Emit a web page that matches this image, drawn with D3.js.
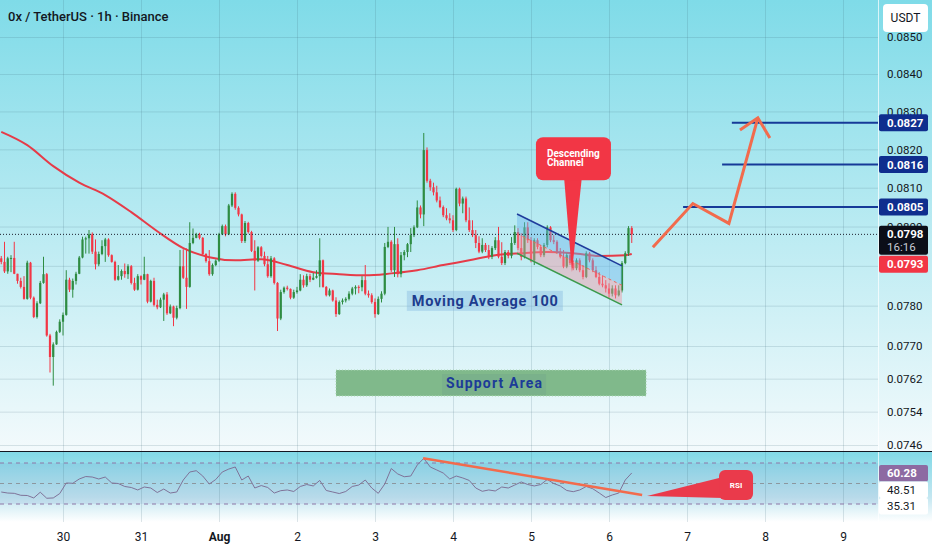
<!DOCTYPE html>
<html>
<head>
<meta charset="utf-8">
<title>0x / TetherUS 1h</title>
<script src="https://cdn.jsdelivr.net/npm/d3@7"></script>
<style>
  html, body { margin: 0; padding: 0; background: #fff; }
  svg { display: block; }
  text { font-family: Roboto, "Noto Sans", sans-serif; }
</style>
</head>
<body>
<div id="chart"></div>
<script>
// ------------------------
// Data
// ------------------------
const HOUR = 3600e3;
const firstCandle = Date.UTC(2024, 6, 29, 5);   // 1h bars from Jul 29 05:00
const firstOpen = 0.07919;                      // each later bar opens at the previous close

const closes = [
  0.07910,0.07886,0.07919,0.07920,0.07880,0.07862,0.07847,0.07817,0.07908,0.07820,
  0.07772,0.07806,0.07857,0.07879,0.07726,0.07673,0.07704,0.07735,0.07760,0.07777,
  0.07865,0.07840,0.07862,0.07880,0.07921,0.07967,0.07970,0.07980,0.07936,0.07904,
  0.07930,0.07950,0.07967,0.07927,0.07910,0.07865,0.07874,0.07887,0.07879,0.07899,
  0.07857,0.07840,0.07874,0.07865,0.07879,0.07810,0.07862,0.07802,0.07796,0.07815,
  0.07828,0.07781,0.07798,0.07770,0.07794,0.07899,0.07870,0.07847,0.07958,0.07971,
  0.07980,0.07971,0.07930,0.07912,0.07879,0.07902,0.07913,0.07980,0.08001,0.07980,
  0.08054,0.08084,0.08048,0.08031,0.07963,0.08009,0.07986,0.07938,0.07913,0.07947,
  0.07925,0.07904,0.07874,0.07919,0.07857,0.07768,0.07834,0.07845,0.07842,0.07820,
  0.07834,0.07838,0.07865,0.07851,0.07874,0.07865,0.07870,0.07874,0.07914,0.07847,
  0.07826,0.07838,0.07813,0.07779,0.07809,0.07813,0.07817,0.07830,0.07843,0.07847,
  0.07846,0.07864,0.07830,0.07826,0.07809,0.07779,0.07817,0.07830,0.07948,0.07961,
  0.07889,0.07955,0.07879,0.07927,0.07935,0.07955,0.07978,0.07998,0.08049,0.08031,
  0.08198,0.08118,0.08101,0.08088,0.08067,0.08050,0.08029,0.08021,0.08016,0.07991,
  0.08097,0.08059,0.08072,0.08016,0.07991,0.07978,0.07958,0.07936,0.07953,0.07940,
  0.07923,0.07945,0.07965,0.07923,0.07907,0.07935,0.07925,0.07958,0.07986,0.07945,
  0.07923,0.07998,0.07965,0.07914,0.07965,0.07948,0.07927,0.07953,0.07998,0.07965,
  0.07961,0.07936,0.07923,0.07898,0.07927,0.07907,0.07894,0.07914,0.07889,0.07872,
  0.07932,0.07914,0.07889,0.07872,0.07855,0.07851,0.07843,0.07830,0.07843,0.07826,
  0.07838,0.07907,0.07932,0.07996,0.07980
];

const highs = [
  0.07925,0.07961,0.07923,0.07927,0.07961,0.07880,0.07870,0.07874,0.07913,0.07910,
  0.07823,0.07811,0.07862,0.07923,0.07882,0.07730,0.07709,0.07738,0.07766,0.07783,
  0.07889,0.07870,0.07868,0.07885,0.07925,0.07974,0.07974,0.07991,0.07985,0.07967,
  0.07936,0.07965,0.07971,0.07970,0.07929,0.07913,0.07902,0.07891,0.07906,0.07904,
  0.07902,0.07870,0.07879,0.07876,0.07923,0.07880,0.07865,0.07870,0.07815,0.07820,
  0.07832,0.07834,0.07803,0.07800,0.07800,0.07940,0.07942,0.07944,0.08011,0.07995,
  0.07984,0.07984,0.07973,0.07932,0.07940,0.07906,0.07916,0.07984,0.08005,0.08005,
  0.08058,0.08088,0.08088,0.08052,0.08033,0.08014,0.08012,0.07989,0.07965,0.07950,
  0.07950,0.07936,0.07925,0.07925,0.07922,0.07859,0.07840,0.07848,0.07850,0.07843,
  0.07840,0.07847,0.07879,0.07876,0.07880,0.07880,0.07882,0.07889,0.07970,0.07916,
  0.07849,0.07843,0.07840,0.07821,0.07813,0.07818,0.07821,0.07836,0.07847,0.07851,
  0.07851,0.07874,0.07902,0.07838,0.07831,0.07818,0.07823,0.07836,0.07958,0.07999,
  0.07965,0.07999,0.07970,0.07935,0.07940,0.07958,0.07996,0.08003,0.08067,0.08054,
  0.08243,0.08205,0.08123,0.08113,0.08105,0.08077,0.08054,0.08047,0.08034,0.08029,
  0.08100,0.08100,0.08077,0.08077,0.08049,0.08016,0.07991,0.07975,0.07970,0.07958,
  0.07953,0.07950,0.07973,0.07999,0.07960,0.07940,0.07940,0.07973,0.08003,0.07996,
  0.07983,0.08011,0.08011,0.07973,0.07970,0.07970,0.07953,0.07958,0.08003,0.08001,
  0.07978,0.07965,0.07945,0.07940,0.07932,0.07930,0.07914,0.07919,0.07919,0.07902,
  0.07937,0.07935,0.07919,0.07899,0.07884,0.07876,0.07864,0.07856,0.07851,0.07851,
  0.07851,0.07912,0.07937,0.08001,0.08001
];

const lows = [
  0.07904,0.07882,0.07880,0.07884,0.07879,0.07855,0.07843,0.07815,0.07815,0.07816,
  0.07769,0.07768,0.07804,0.07855,0.07723,0.07635,0.07603,0.07703,0.07732,0.07726,
  0.07775,0.07834,0.07820,0.07853,0.07879,0.07919,0.07931,0.07931,0.07930,0.07891,
  0.07899,0.07927,0.07910,0.07923,0.07908,0.07862,0.07863,0.07865,0.07870,0.07867,
  0.07853,0.07837,0.07838,0.07853,0.07864,0.07806,0.07808,0.07798,0.07791,0.07794,
  0.07762,0.07777,0.07779,0.07749,0.07766,0.07791,0.07867,0.07792,0.07845,0.07955,
  0.07970,0.07967,0.07926,0.07908,0.07875,0.07875,0.07899,0.07910,0.07978,0.07975,
  0.07978,0.08050,0.08043,0.08026,0.07958,0.07958,0.07982,0.07935,0.07838,0.07910,
  0.07921,0.07899,0.07870,0.07870,0.07853,0.07737,0.07764,0.07830,0.07838,0.07816,
  0.07817,0.07830,0.07836,0.07845,0.07847,0.07859,0.07864,0.07868,0.07846,0.07845,
  0.07823,0.07823,0.07810,0.07772,0.07777,0.07803,0.07808,0.07813,0.07826,0.07828,
  0.07831,0.07836,0.07826,0.07820,0.07805,0.07770,0.07777,0.07808,0.07826,0.07945,
  0.07884,0.07872,0.07871,0.07871,0.07914,0.07922,0.07935,0.07973,0.07996,0.08021,
  0.08001,0.08113,0.08092,0.08080,0.08062,0.08047,0.08024,0.08016,0.08008,0.07986,
  0.07988,0.08052,0.08034,0.08011,0.07986,0.07973,0.07945,0.07932,0.07932,0.07935,
  0.07917,0.07917,0.07940,0.07919,0.07902,0.07902,0.07919,0.07919,0.07953,0.07940,
  0.07914,0.07919,0.07958,0.07909,0.07902,0.07942,0.07922,0.07922,0.07947,0.07960,
  0.07955,0.07932,0.07919,0.07894,0.07894,0.07902,0.07889,0.07889,0.07884,0.07866,
  0.07869,0.07909,0.07884,0.07869,0.07851,0.07846,0.07833,0.07820,0.07823,0.07818,
  0.07823,0.07833,0.07904,0.07925,0.07958
];

// Moving Average 100, read at every 8th bar
const maIndex = [0, 8, 16, 24, 32, 40, 48, 56, 64, 72, 80, 88, 96, 104, 112, 120,
                 128, 136, 144, 152, 160, 168, 176, 184, 192, 194];
const maValues = [0.08246, 0.08211, 0.08156, 0.08113, 0.08081, 0.08037, 0.07988, 0.07945,
                  0.07922, 0.07914, 0.07917, 0.07902, 0.07884, 0.07879, 0.07876, 0.07881,
                  0.07889, 0.07902, 0.07914, 0.07927, 0.07932, 0.07935, 0.07932, 0.07925,
                  0.07927, 0.07930];

// RSI, one reading every second bar
const rsiValues = [
  41.7, 40.7, 40.4, 38.5, 38.3, 35.9, 41.5, 35.6, 35.9, 40.2,
  50.5, 50.2, 54.4, 56.8, 56.3, 54.4, 56.3, 50.5, 50.0, 47.1,
  46.1, 43.7, 46.6, 45.6, 41.2, 44.6, 40.7, 41.7, 53.4, 61.2,
  62.5, 57.3, 49.5, 53.9, 61.2, 64.1, 66.1, 53.4, 57.3, 45.6,
  48.0, 46.1, 40.7, 43.0, 43.7, 42.2, 47.1, 49.0, 47.6, 53.0,
  43.2, 41.7, 40.2, 42.2, 47.1, 48.5, 53.4, 45.6, 40.4, 49.5,
  64.6, 59.3, 56.6, 57.3, 68.0, 74.5, 66.1, 63.2, 60.2, 54.4,
  57.3, 55.4, 53.0, 45.6, 42.4, 43.7, 42.7, 46.6, 45.6, 48.5,
  51.5, 49.0, 47.6, 49.0, 53.9, 50.0, 47.6, 43.2, 42.0, 43.7,
  47.1, 44.9, 40.7, 36.3, 38.8, 40.7, 53.4, 60.28
];
const rsiSideValues = [48.51, 35.31];
const rsiLevels = [70, 50, 30];

// 0.0790 sits under the price tags, so only its grid line shows
const priceTicks = [0.0850, 0.0840, 0.0830, 0.0820, 0.0810, 0.0800, 0.0790,
                    0.0780, 0.0770, 0.0762, 0.0754, 0.0746];
const hiddenTicks = [0.0790];
const dayLabels = ["30", "31", "Aug", "2", "3", "4", "5", "6", "7", "8", "9"];
const countdown = "16:16";

// drawings; times are hours after Jul 30 00:00
const dayZero = Date.UTC(2024, 6, 30);
const channelHours = [139.7, 172];
const channelUpper = [0.08032, 0.07900];
const channelLower = [0.07932, 0.07802];
const targetLevels = [0.0827, 0.0816, 0.0805];
const targetFrom = [205.8, 202.8, 190.8];
const pathHours = [181.5, 193.8, 204.9, 213.8];
const pathPrices = [0.07947, 0.08059, 0.08008, 0.08283];
const arrowHours = [208.3, 213.8, 217.5];
const arrowPrices = [0.08251, 0.08283, 0.08230];
const supportHours = [84, 179.4];
const supportPrices = [0.07641, 0.07578];
const maLabelAt = [129.8, 0.07812];
const channelTipAt = [156.6, 0.07884];
const rsiTrendHours = [110.8, 178.2];
const rsiTrendValues = [74.6, 38.8];
const rsiTipAt = [179.7, 37.8];

// ------------------------
// Layout and scales
// ------------------------
const W = 932, H = 550;
const right = 878, mainBottom = 451, rsiBottom = 522;

const x = d3.scaleUtc()
  .domain([new Date(dayZero), new Date(dayZero + 240 * HOUR)])
  .range([63, 843]);
const y = d3.scaleLog().domain([0.0850, 0.0746]).range([37, 445]);
const r = d3.scaleLinear().domain([70, 30]).range([463, 504]);
const xh = h => x(new Date(dayZero + h * HOUR));
const fmt4 = d3.format(".4f");

const svg = d3.select("#chart").append("svg")
  .attr("width", W)
  .attr("height", H);

const defs = svg.append("defs");
function vGrad(id, stops) {
  const g = defs.append("linearGradient").attr("id", id)
    .attr("x1", 0).attr("y1", 0).attr("x2", 0).attr("y2", 1);
  stops.forEach(([o, c]) => g.append("stop").attr("offset", o).attr("stop-color", c));
}
vGrad("bgMain", [["0%", "#7fdbe8"], ["100%", "#f3fafc"]]);
vGrad("bgRsi", [["0%", "#80d9e7"], ["65%", "#c4e7f1"], ["100%", "#ffffff"]]);

defs.append("clipPath").attr("id", "clipMain")
  .append("rect").attr("width", right).attr("height", mainBottom);
defs.append("clipPath").attr("id", "clipRsi")
  .append("rect").attr("y", mainBottom).attr("width", right).attr("height", rsiBottom - mainBottom);
defs.append("clipPath").attr("id", "clipRsiAxis")
  .append("rect").attr("x", right).attr("y", mainBottom + 1)
  .attr("width", W - right).attr("height", rsiBottom - mainBottom);

// backgrounds
svg.append("rect").attr("width", W).attr("height", mainBottom).attr("fill", "url(#bgMain)");
svg.append("rect").attr("y", mainBottom).attr("width", W).attr("height", rsiBottom - mainBottom)
  .attr("fill", "url(#bgRsi)");
svg.append("rect").attr("y", rsiBottom).attr("width", W).attr("height", H - rsiBottom).attr("fill", "#fff");
svg.append("rect").attr("x", 0).attr("width", right)
  .attr("y", r(70)).attr("height", r(30) - r(70))
  .attr("fill", "rgba(80,110,180,0.10)");

// grid
const gridColor = "rgba(60,100,120,0.17)";
svg.append("g")
  .attr("transform", `translate(${right},0)`)
  .call(d3.axisLeft(y).tickValues(priceTicks).tickSize(right).tickFormat(""))
  .call(g => g.select(".domain").remove())
  .selectAll("line").attr("stroke", gridColor);

const days = d3.utcDay.range(new Date(dayZero), new Date(dayZero + 11 * 24 * HOUR));
svg.append("g")
  .call(d3.axisBottom(x).tickValues(days).tickSize(rsiBottom).tickFormat(""))
  .call(g => g.select(".domain").remove())
  .selectAll("line").attr("stroke", gridColor);

// ------------------------
// Main pane
// ------------------------
const main = svg.append("g").attr("clip-path", "url(#clipMain)");

// support area
const sx0 = xh(supportHours[0]), sx1 = xh(supportHours[1]);
const sy0 = y(supportPrices[0]), sy1 = y(supportPrices[1]);
main.append("rect")
  .attr("x", sx0).attr("y", sy0).attr("width", sx1 - sx0).attr("height", sy1 - sy0)
  .attr("fill", "#80b98b")
  .attr("stroke", "#a7d3b0").attr("stroke-dasharray", "1,2");
const supW = 96;
main.append("rect")
  .attr("x", (sx0 + sx1) / 2 + 3 - supW / 2 - 4).attr("y", sy0 + 4)
  .attr("width", supW + 8).attr("height", sy1 - sy0 - 5)
  .attr("fill", "rgba(110,160,140,0.3)");
main.append("text")
  .attr("x", (sx0 + sx1) / 2 + 3).attr("y", (sy0 + sy1) / 2 + 5)
  .attr("text-anchor", "middle")
  .attr("font-size", 14).attr("font-weight", 700)
  .attr("textLength", supW).attr("lengthAdjust", "spacing")
  .attr("fill", "#1c3b98")
  .text("Support Area");

// moving average 100
const maLine = d3.line()
  .x((d, k) => x(new Date(firstCandle + maIndex[k] * HOUR)))
  .y(d => y(d))
  .curve(d3.curveMonotoneX);
main.append("path")
  .datum(maValues)
  .attr("fill", "none")
  .attr("stroke", "#e63b48")
  .attr("stroke-width", 2)
  .attr("d", maLine);

// candles
const bars = closes.map((c, i) => ({
  t: new Date(firstCandle + i * HOUR),
  o: i ? closes[i - 1] : firstOpen,
  h: highs[i], l: lows[i], c
}));
const up = "#2e8c42", down = "#f23645";
main.append("g").selectAll("line")
  .data(bars).enter().append("line")
  .attr("x1", d => x(d.t)).attr("x2", d => x(d.t))
  .attr("y1", d => y(d.h)).attr("y2", d => y(d.l))
  .attr("stroke", d => d.c >= d.o ? up : down)
  .attr("stroke-width", 1);
main.append("g").selectAll("rect")
  .data(bars).enter().append("rect")
  .attr("x", d => x(d.t) - 1.1)
  .attr("width", 2.2)
  .attr("y", d => y(Math.max(d.o, d.c)))
  .attr("height", d => Math.max(1, Math.abs(y(d.o) - y(d.c))))
  .attr("fill", d => d.c >= d.o ? up : down);

// descending channel
const cx0 = xh(channelHours[0]), cx1 = xh(channelHours[1]);
const mid = channelUpper.map((u, k) => Math.sqrt(u * channelLower[k]));
main.append("path")
  .attr("d", `M${cx0},${y(channelUpper[0])}L${cx1},${y(channelUpper[1])}L${cx1},${y(mid[1])}L${cx0},${y(mid[0])}Z`)
  .attr("fill", "rgba(110,185,235,0.45)");
main.append("path")
  .attr("d", `M${cx0},${y(mid[0])}L${cx1},${y(mid[1])}L${cx1},${y(channelLower[1])}L${cx0},${y(channelLower[0])}Z`)
  .attr("fill", "rgba(240,150,165,0.45)");
main.append("line")
  .attr("x1", cx0).attr("y1", y(mid[0])).attr("x2", cx1).attr("y2", y(mid[1]))
  .attr("stroke", "#e8675e").attr("stroke-width", 1).attr("stroke-dasharray", "3,3");
main.append("line")
  .attr("x1", cx0).attr("y1", y(channelUpper[0])).attr("x2", cx1).attr("y2", y(channelUpper[1]))
  .attr("stroke", "#1f3c9c").attr("stroke-width", 1.6);
main.append("line")
  .attr("x1", cx0).attr("y1", y(channelLower[0])).attr("x2", cx1).attr("y2", y(channelLower[1]))
  .attr("stroke", "#3a9a4c").attr("stroke-width", 1.6);

// current price line
const lastPrice = closes[closes.length - 1];
main.append("line")
  .attr("x1", 0).attr("x2", right)
  .attr("y1", y(lastPrice)).attr("y2", y(lastPrice))
  .attr("stroke", "#1a1f2e").attr("stroke-width", 1)
  .attr("stroke-dasharray", "1,2");

// target levels
targetLevels.forEach((v, k) => {
  main.append("line")
    .attr("x1", xh(targetFrom[k])).attr("x2", right)
    .attr("y1", y(v)).attr("y2", y(v))
    .attr("stroke", "#163a98").attr("stroke-width", 2);
});

// projected path
const proj = d3.line().x(d => xh(d[0])).y(d => y(d[1]));
main.append("path")
  .datum(pathHours.map((h, k) => [h, pathPrices[k]]))
  .attr("fill", "none").attr("stroke", "#f26b4d").attr("stroke-width", 3)
  .attr("d", proj);
main.append("path")
  .datum(arrowHours.map((h, k) => [h, arrowPrices[k]]))
  .attr("fill", "none").attr("stroke", "#f26b4d").attr("stroke-width", 3)
  .attr("d", proj);

// moving average label
const maW = 146;
main.append("rect")
  .attr("x", xh(maLabelAt[0]) - maW / 2 - 5).attr("y", y(maLabelAt[1]) - 10)
  .attr("width", maW + 10).attr("height", 20)
  .attr("fill", "rgba(120,175,220,0.35)");
main.append("text")
  .attr("x", xh(maLabelAt[0])).attr("y", y(maLabelAt[1]) + 5.5)
  .attr("text-anchor", "middle")
  .attr("font-size", 14.5).attr("font-weight", 700)
  .attr("textLength", maW).attr("lengthAdjust", "spacing")
  .attr("fill", "#1d3c8e")
  .text("Moving Average 100");

// descending channel callout
const tx = xh(channelTipAt[0]), ty = y(channelTipAt[1]);
main.append("path")
  .attr("d", `M${tx - 8},${ty - 96}L${tx + 10},${ty - 96}L${tx},${ty}Z`)
  .attr("fill", "#f23645");
main.append("rect")
  .attr("x", tx - 36).attr("y", ty - 135).attr("width", 75).attr("height", 43)
  .attr("rx", 7).attr("fill", "#f23645");
main.append("text").attr("x", tx - 25).attr("y", ty - 115)
  .attr("font-size", 10).attr("font-weight", 700).attr("fill", "#fff").text("Descending");
main.append("text").attr("x", tx - 25).attr("y", ty - 106)
  .attr("font-size", 10).attr("font-weight", 700).attr("fill", "#fff").text("Channel");

// ------------------------
// RSI pane
// ------------------------
const rsiG = svg.append("g").attr("clip-path", "url(#clipRsi)");
rsiLevels.forEach(v => {
  rsiG.append("line")
    .attr("x1", 0).attr("x2", right)
    .attr("y1", r(v)).attr("y2", r(v))
    .attr("stroke", v === 50 ? "#8c979f" : "#8d76a6")
    .attr("stroke-width", 1).attr("stroke-dasharray", "4,4");
});
rsiG.append("path")
  .datum(rsiValues)
  .attr("fill", "none")
  .attr("stroke", "#7f7399").attr("stroke-width", 1)
  .attr("d", d3.line()
    .x((d, j) => x(new Date(firstCandle + 2 * j * HOUR)))
    .y(d => r(d)));
rsiG.append("line")
  .attr("x1", xh(rsiTrendHours[0])).attr("y1", r(rsiTrendValues[0]))
  .attr("x2", xh(rsiTrendHours[1])).attr("y2", r(rsiTrendValues[1]))
  .attr("stroke", "#f26b4d").attr("stroke-width", 2.5);

const rx = xh(rsiTipAt[0]), ry = r(rsiTipAt[1]);
rsiG.append("path")
  .attr("d", `M${rx},${ry}L${rx + 76},${ry - 19}L${rx + 76},${ry + 2}Z`)
  .attr("fill", "#ea3a4b");
rsiG.append("rect")
  .attr("x", rx + 72).attr("y", ry - 26).attr("width", 34).attr("height", 30)
  .attr("rx", 6).attr("fill", "#ea3a4b");
rsiG.append("text").attr("x", rx + 89).attr("y", ry - 8)
  .attr("text-anchor", "middle")
  .attr("font-size", 8).attr("font-weight", 700).attr("fill", "#fff").text("RSI");

// ------------------------
// Frame, axes and tags
// ------------------------
svg.append("line")
  .attr("x1", right + 0.5).attr("x2", right + 0.5).attr("y1", 0).attr("y2", rsiBottom)
  .attr("stroke", "rgba(255,255,255,0.7)");

const axisFont = g => g
  .attr("font-family", "Roboto, 'Noto Sans', sans-serif")
  .attr("font-size", 11.5);

svg.append("g")
  .attr("transform", `translate(${right},0)`)
  .call(d3.axisRight(y)
    .tickValues(priceTicks.filter(v => !hiddenTicks.includes(v)))
    .tickFormat(fmt4).tickSize(0).tickPadding(9))
  .call(axisFont)
  .call(g => g.select(".domain").remove())
  .selectAll("text").attr("fill", "#131722");

svg.append("g")
  .attr("transform", `translate(${right},0)`)
  .attr("clip-path", "url(#clipRsiAxis)")
  .call(d3.axisRight(r).tickValues([80]).tickFormat(d3.format(".2f")).tickSize(0).tickPadding(9))
  .call(axisFont)
  .call(g => g.select(".domain").remove())
  .selectAll("text").attr("fill", "#131722").attr("dy", "0.5em");

svg.append("g")
  .attr("transform", `translate(0,${rsiBottom})`)
  .call(d3.axisBottom(x).tickValues(days).tickSize(0).tickPadding(10.5)
    .tickFormat((d, k) => dayLabels[k]))
  .call(axisFont)
  .call(g => g.select(".domain").remove())
  .selectAll("text")
  .attr("font-size", 12)
  .attr("fill", "#131722")
  .attr("font-weight", (d, k) => dayLabels[k] === "Aug" ? 700 : 400);

// separator between panes
svg.append("line")
  .attr("x1", 0).attr("x2", W).attr("y1", mainBottom + 0.5).attr("y2", mainBottom + 0.5)
  .attr("stroke", "#131722").attr("stroke-width", 1.2);

const tags = svg.append("g");
function tag(top, h, fill, lines) {
  tags.append("rect")
    .attr("x", right + 1).attr("y", top).attr("width", 49).attr("height", h)
    .attr("rx", 2).attr("fill", fill);
  lines.forEach((l, k) => {
    tags.append("text")
      .attr("x", right + 9).attr("y", top + 12.5 + k * 13)
      .attr("font-size", 11.5).attr("font-weight", l.bold ? 700 : 400)
      .attr("fill", l.color)
      .text(l.text);
  });
}
targetLevels.forEach(v =>
  tag(y(v) - 8.5, 17, "#0f2e8e", [{ text: fmt4(v), color: "#fff", bold: true }]));
const lastTop = y(lastPrice) - 8.5;
tag(lastTop, 29, "#0b0e18", [
  { text: fmt4(lastPrice), color: "#fff", bold: true },
  { text: countdown, color: "#c9ccd6", bold: false }
]);
const maLast = maValues[maValues.length - 1];
tag(Math.max(y(maLast) - 8.5, lastTop + 30), 17, "#f23645",
  [{ text: fmt4(maLast), color: "#fff", bold: true }]);

const rsiLast = rsiValues[rsiValues.length - 1];
let rTop = r(rsiLast) - 8;
tag(rTop, 16.5, "#8d6aa2", [{ text: d3.format(".2f")(rsiLast), color: "#fff", bold: true }]);
rsiSideValues.forEach(v => {
  rTop = Math.max(r(v) - 8, rTop + 16.5);
  tag(rTop, 16.5, "#ffffff", [{ text: d3.format(".2f")(v), color: "#131722", bold: false }]);
});

// currency box
svg.append("rect")
  .attr("x", 883).attr("y", 4).attr("width", 45).attr("height", 28)
  .attr("rx", 4).attr("fill", "#fff");
svg.append("text")
  .attr("x", 905.5).attr("y", 22)
  .attr("text-anchor", "middle")
  .attr("font-size", 12).attr("fill", "#131722")
  .text("USDT");

// title
svg.append("text")
  .attr("x", 8).attr("y", 20.5)
  .attr("font-size", 13).attr("font-weight", 500)
  .attr("fill", "#131722")
  .text("0x / TetherUS · 1h · Binance");
</script>
</body>
</html>
